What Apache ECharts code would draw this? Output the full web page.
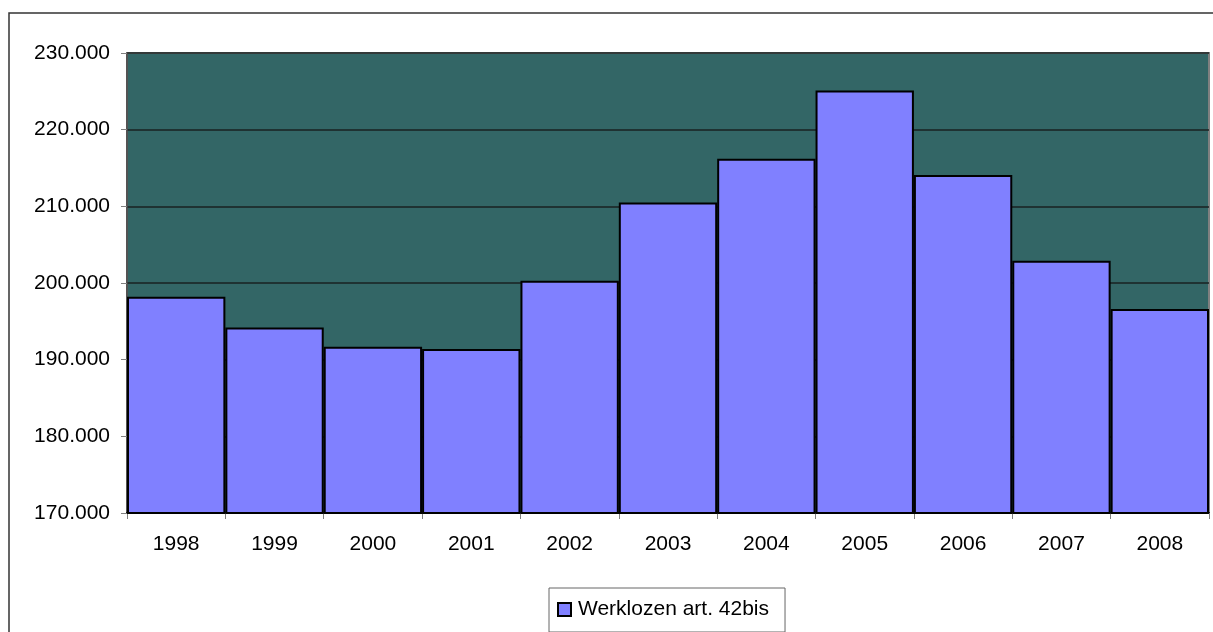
<!DOCTYPE html>
<html>
<head>
<meta charset="utf-8">
<script src="https://cdn.jsdelivr.net/npm/echarts@6/dist/echarts.min.js"></script>
<style>
  html, body { margin: 0; padding: 0; background: #fff; }
  #chart { width: 1213px; height: 632px; }
</style>
</head>
<body>
<div id="chart"></div>
<script>
// data
const years = ['1998', '1999', '2000', '2001', '2002', '2003', '2004', '2005', '2006', '2007', '2008']
const werklozen = [198200, 194200, 191700, 191400, 200300, 210500, 216200, 225100, 214100, 202900, 196600]
const seriesName = 'Werklozen art. 42bis'

const font = "'Liberation Sans', Arial, sans-serif"

function dots(v) {
  return String(v).replace(/\B(?=(\d{3})+(?!\d))/g, '.')
}

const chart = echarts.init(document.getElementById('chart'), null, { renderer: 'canvas' })

chart.setOption({
  animation: false,
  backgroundColor: '#fff',
  textStyle: { fontFamily: font },
  graphic: [{
    type: 'rect',
    shape: { x: 9, y: 13, width: 1400, height: 800 },
    style: { fill: 'none', stroke: '#333', lineWidth: 1.5 },
    z: 0
  }],
  grid: {
    left: 127,
    top: 53,
    width: 1082,
    height: 460,
    show: true,
    backgroundColor: '#336666',
    borderColor: '#808080',
    borderWidth: 2
  },
  legend: {
    data: [{ name: seriesName, icon: 'rect' }],
    left: 549,
    top: 588,
    padding: [11, 16, 12, 8],
    borderColor: '#666',
    borderWidth: 1,
    backgroundColor: '#fff',
    itemWidth: 13,
    itemHeight: 13,
    textStyle: { fontSize: 21, color: '#000', fontFamily: font, padding: [0, 0, 0, 2] }
  },
  xAxis: {
    type: 'category',
    data: years,
    axisLine: { lineStyle: { color: '#000', width: 2 } },
    axisTick: { show: true, length: 6, lineStyle: { color: '#808080' } },
    axisLabel: { color: '#000', fontSize: 21, margin: 21, fontFamily: font }
  },
  yAxis: {
    type: 'value',
    min: 170000,
    max: 230000,
    interval: 10000,
    axisLine: { show: true, lineStyle: { color: '#444', width: 1.5 } },
    axisTick: { show: true, length: 6, lineStyle: { color: '#808080' } },
    axisLabel: { color: '#000', fontSize: 21, margin: 17, fontFamily: font, formatter: dots },
    splitLine: { lineStyle: { color: '#1a2222', width: 1.5 } }
  },
  series: [{
    name: seriesName,
    type: 'bar',
    data: werklozen,
    barCategoryGap: '0%',
    itemStyle: { color: '#8080ff', borderColor: '#000', borderWidth: 2 }
  }]
})
</script>
</body>
</html>
